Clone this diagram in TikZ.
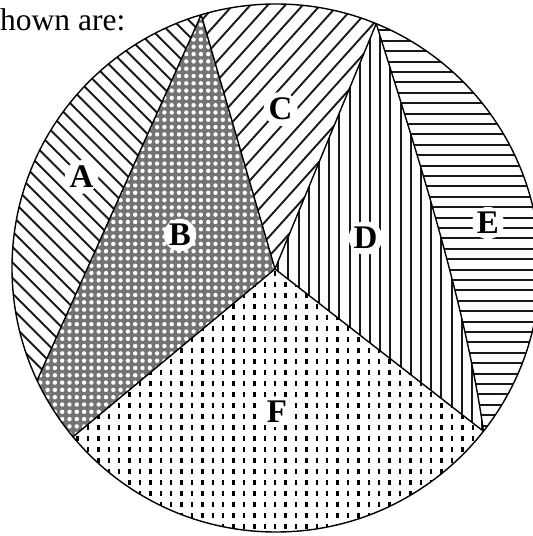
\documentclass[tikz,border=0pt]{standalone}
\usepackage{fontspec}
\setmainfont{Liberation Serif}
\begin{document}
\begin{tikzpicture}[x=1pt,y=1pt]
\tikzset{
  border/.style={draw=black, line width=1.4pt, line join=round},
  stripe/.style={black!90, line width=1.9pt},
  lbl/.style={circle, fill=white, inner sep=0.5pt, font=\fontsize{33}{33}\selectfont\bfseries},
}
\useasboundingbox (0,0) rectangle (533,536);
\clip (0,0) rectangle (533,536);
\coordinate (O) at (276,268);
\coordinate (J) at (275,267);
\coordinate (P1) at (201.2,521.2);
\coordinate (P2) at (376.2,512.3);
\coordinate (P3) at (37.1,155.6);
\coordinate (P4) at (73.0,99.2);
\coordinate (P5) at (483.5,104.7);
% A: NW stripes
\begin{scope}
\clip (P3) arc[start angle=205.2, end angle=106.45, radius=264] -- cycle;
\foreach \i in {0,...,50} {\draw[stripe] ({100+\i*15.5-600},600) -- ({100+\i*15.5},0);}
\end{scope}
% B: gray mesh
\begin{scope}
\clip (P1) -- (J) -- (P4) arc[start angle=219.75, end angle=205.2, radius=264] -- cycle;
\fill[black!55] (30,90) rectangle (280,530);
\foreach \i in {0,...,35} {\foreach \j in {0,...,60} {\fill[white] ({33+\i*7.3},{95+\j*7.3}) circle[radius=2.2];}}
\end{scope}
% C: NE stripes
\begin{scope}
\clip (P1) -- (J) -- (P2) arc[start angle=67.7, end angle=106.45, radius=264] -- cycle;
\foreach \i in {-40,...,40} {\draw[stripe, rotate around={48:(O)}] (-200,{268+\i*13}) -- (800,{268+\i*13});}
\end{scope}
% D: vertical stripes
\begin{scope}
\clip (J) -- (P2) .. controls (418,380) and (466,230) .. (P5) -- cycle;
\foreach \i in {0,...,25} {\draw[stripe] ({268+\i*10.2},0) -- ({268+\i*10.2},536);}
\end{scope}
% E: horizontal stripes
\begin{scope}
\clip (P2) .. controls (418,380) and (466,230) .. (P5) arc[start angle=-38.2, end angle=67.7, radius=264] -- cycle;
\foreach \i in {0,...,45} {\draw[stripe] (350,{100+\i*10.4}) -- (560,{100+\i*10.4});}
\end{scope}
% F: dashes
\begin{scope}
\clip (J) -- (P4) arc[start angle=219.75, end angle=321.8, radius=264] -- cycle;
\foreach \i in {0,...,42} {\foreach \j in {0,...,26} {\fill[black] ({66+\i*10.4},{-4+\j*11}) rectangle ++(2.3,5);}}
\end{scope}
% borders
\draw[border] (O) circle[radius=264];
\draw[border] (P3) -- (P1) -- (J) -- (P2);
\draw[border] (P4) -- (J) -- (P5);
\draw[border] (P2) .. controls (418,380) and (466,230) .. (P5);
% labels
\node[lbl] (A) at (81.6,359) {A};
\node[lbl] (B) at (180,301) {B};
\node[lbl] (C) at (280.6,427) {C};
\node[lbl] (D) at (365.6,298) {D};
\node[lbl] (E) at (488,313) {E};
\node[lbl] (F) at (277,124.4) {F};
\node[anchor=base west, inner sep=0pt, font=\fontsize{31.5}{31.5}\selectfont] (T) at (0,505) {hown are:};
\end{tikzpicture}
\end{document}
